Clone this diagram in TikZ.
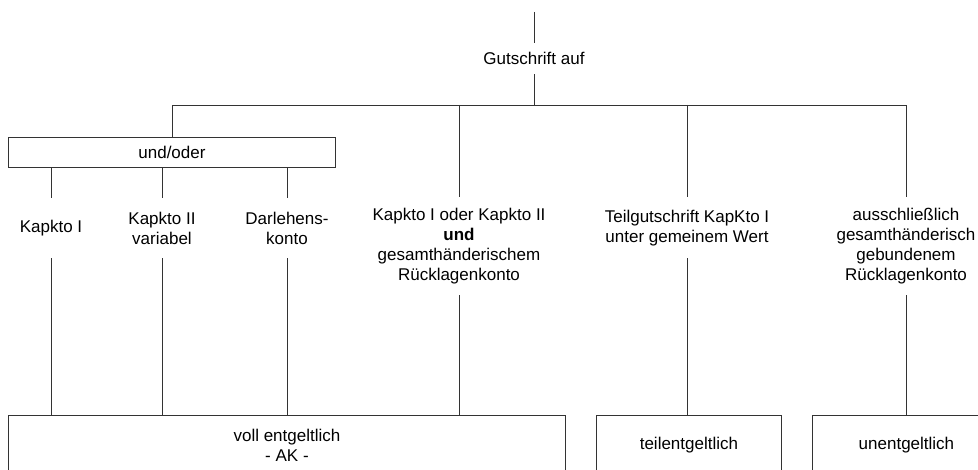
\documentclass[tikz,border=0pt]{standalone}
\usepackage{fontspec}
\setmainfont{Liberation Sans}
\begin{document}
\begin{tikzpicture}[x=1pt,y=-1pt,
  conn/.style={draw=black!80, line width=0.9pt},
  lbl/.style={inner sep=0pt, align=center, font=\fontsize{17}{20}\selectfont, anchor=north},
  boxx/.style={draw=black!80, line width=0.9pt, inner sep=0pt, align=center, font=\fontsize{17}{20}\selectfont, anchor=north west},
]
\useasboundingbox (0,0) rectangle (978,470);
\clip (0,0) rectangle (978,470);

\coordinate (top) at (534,12);
\node[lbl, anchor=center, minimum height=31] (gut) at (534,58.5) {Gutschrift auf};
\coordinate (hb) at (534,105);

\node[boxx, minimum width=327, minimum height=30] (und) at (8,137) {und/oder};

\node[lbl, minimum height=60] (k1) at (51,198) {Kapkto I};
\node[lbl, minimum height=60] (k2) at (162,198) {Kapkto II\\variabel};
\node[lbl, minimum height=60] (k3) at (287,198) {Darlehens-\\konto};

\node[lbl, minimum height=98] (mid) at (459,197) {Kapkto I oder Kapkto II\\\textbf{und}\\gesamthänderischem\\Rücklagenkonto};
\node[lbl, minimum height=61] (teil) at (687,197) {Teilgutschrift KapKto I\\unter gemeinem Wert};
\node[lbl, minimum height=98] (rgt) at (906,197) {ausschließlich\\gesamthänderisch\\gebundenem\\Rücklagenkonto};

\node[boxx, minimum width=557, minimum height=60] (voll) at (8,415) {voll entgeltlich\\- AK -};
\node[boxx, minimum width=185, minimum height=60] (teilb) at (596,415) {teilentgeltlich};
\node[boxx, minimum width=188, minimum height=60] (unb) at (812,415) {unentgeltlich};

\draw[conn] (top) -- (gut.north);
\draw[conn] (gut.south) -- (hb);
\draw[conn] (und.north) -- (und.north |- hb) -- (rgt.north |- hb) -- (rgt.north);
\draw[conn] (mid.north |- hb) -- (mid.north);
\draw[conn] (teil.north |- hb) -- (teil.north);
\foreach \k in {k1,k2,k3} {
  \draw[conn] (\k.north |- und.south) -- (\k.north);
  \draw[conn] (\k.south) -- (\k.south |- voll.north);
}
\draw[conn] (mid.south) -- (mid.south |- voll.north);
\draw[conn] (teil.south) -- (teil.south |- teilb.north);
\draw[conn] (rgt.south) -- (rgt.south |- unb.north);
\end{tikzpicture}
\end{document}
